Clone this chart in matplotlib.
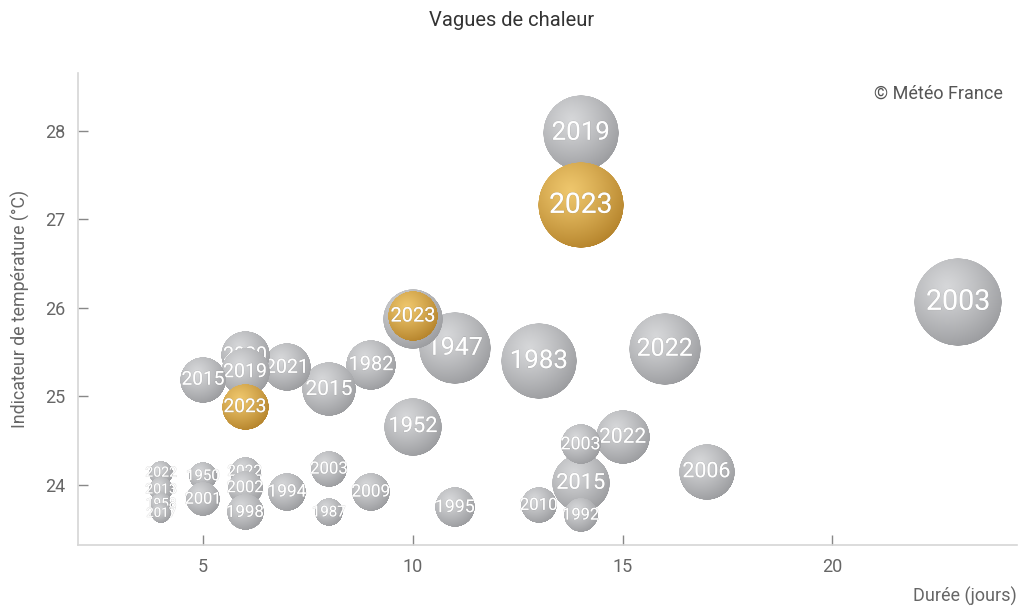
import numpy as np
import matplotlib
matplotlib.use("Agg")
import matplotlib.pyplot as plt
from matplotlib.offsetbox import OffsetImage, AnnotationBbox
import matplotlib.patheffects as pe

plt.rcParams['font.family'] = ['Roboto', 'DejaVu Sans']

# grey series: all heat waves (drawn in this order, later ones on top)
annees = ["2003", "2019", "1983", "1947", "2022", "2023", "1952", "2015", "2006",
          "2022", "1982", "2015", "2021", "2020", "2019", "2015", "2003", "1995",
          "2009", "1994", "2010", "2003", "1992", "1950", "2001", "2022", "2002",
          "1998", "1987", "2022", "2013", "1958", "2017"]
durees = [23, 14, 13, 11, 16, 10, 10, 14, 17,
          15, 9, 8, 7, 6, 6, 5, 14, 11,
          9, 7, 13, 8, 14, 5, 5, 6, 6,
          6, 8, 4, 4, 4, 4]
temperatures = [26.07, 27.98, 25.40, 25.55, 25.54, 25.88, 24.66, 24.02, 24.15,
                24.54, 25.36, 25.08, 25.33, 25.47, 25.28, 25.19, 24.46, 23.75,
                23.92, 23.92, 23.77, 24.18, 23.66, 24.10, 23.84, 24.15, 23.97,
                23.69, 23.69, 24.14, 23.95, 23.79, 23.68]
intensites = [44, 38, 38, 36, 36, 30, 29, 29, 28,
              27, 25, 27, 24, 24, 24, 23, 20, 20,
              19, 19, 18, 18, 17, 14, 17, 15, 17,
              18, 14, 12, 12, 11, 10]

# highlighted series: 2023
annees_2023 = ["2023", "2023", "2023"]
durees_2023 = [14, 10, 6]
temperatures_2023 = [27.16, 25.91, 24.88]
intensites_2023 = [43, 25, 23]

W, H, DPI = 1018, 607, 100


def sphere(base_hi, base_lo, n=256):
    v, u = np.mgrid[-1:1:n * 1j, -1:1:n * 1j]
    r = np.sqrt(u ** 2 + v ** 2)
    alpha = np.clip((1 - r) * n / 2, 0, 1)
    d = np.sqrt((u + 0.25) ** 2 + (v + 0.35) ** 2) / 1.5
    t = np.clip(d, 0, 1) ** 1.2
    hi = np.array(base_hi) / 255.0
    lo = np.array(base_lo) / 255.0
    rgb = hi[None, None, :] * (1 - t[..., None]) + lo[None, None, :] * t[..., None]
    img = np.dstack([rgb, alpha])
    return img


img_grey = sphere((214, 215, 217), (152, 153, 156))
img_gold = sphere((238, 198, 108), (178, 128, 40))

fig = plt.figure(figsize=(W / DPI, H / DPI), dpi=DPI)
ax = fig.add_axes([78 / W, 1 - 545 / H, (1017 - 78) / W, (545 - 73) / H])
ax.set_xlim(2.02, 24.4)
ax.set_ylim(23.322, 28.655)


def bulle(x, y, rad, label, img, z):
    n = img.shape[0]
    oi = OffsetImage(img, zoom=2 * rad / n, dpi_cor=False, interpolation='antialiased')
    ab = AnnotationBbox(oi, (x, y), frameon=False, pad=0, zorder=z)
    ax.add_artist(ab)
    fs = (19 + rad) / 2.2 * 0.72
    ax.text(x, y, label, ha='center', va='center', color='white', fontsize=fs,
            fontweight='normal', zorder=z + 0.5,
            path_effects=[pe.withStroke(linewidth=0.6, foreground=(0.45, 0.45, 0.45, 0.25))])


z = 3
for a, d, t, s in zip(annees, durees, temperatures, intensites):
    bulle(d, t, s, a, img_grey, z)
    z += 1
for a, d, t, s in zip(annees_2023, durees_2023, temperatures_2023, intensites_2023):
    bulle(d, t, s, a, img_gold, z)
    z += 1

for side in ['top', 'right']:
    ax.spines[side].set_visible(False)
for side in ['left', 'bottom']:
    ax.spines[side].set_color('#d6d6d6')
    ax.spines[side].set_linewidth(1.2)

ax.set_xticks([5, 10, 15, 20])
ax.set_yticks([24, 25, 26, 27, 28])
ax.tick_params(axis='both', direction='in', length=7, width=1, color='#888888',
               labelcolor='#666666', labelsize=13)
ax.tick_params(axis='x', pad=9)
ax.tick_params(axis='y', pad=9)

ax.set_ylabel("Indicateur de température (°C)", color='#666666', fontsize=12.8)
ax.yaxis.set_label_coords(-48 / (1017 - 78), 0.5)
fig.text(1017 / W, 1 - 596 / H, "Durée (jours)", ha='right', va='center',
         color='#666666', fontsize=13)

fig.text(512 / W, 1 - 20 / H, "Vagues de chaleur", ha='center', va='center',
         color='#333333', fontsize=14.5)
fig.text(1003 / W, 1 - 94 / H, "© Météo France", ha='right', va='center',
         color='#555555', fontsize=13)

fig.savefig("out.png", dpi=DPI, facecolor='white')
